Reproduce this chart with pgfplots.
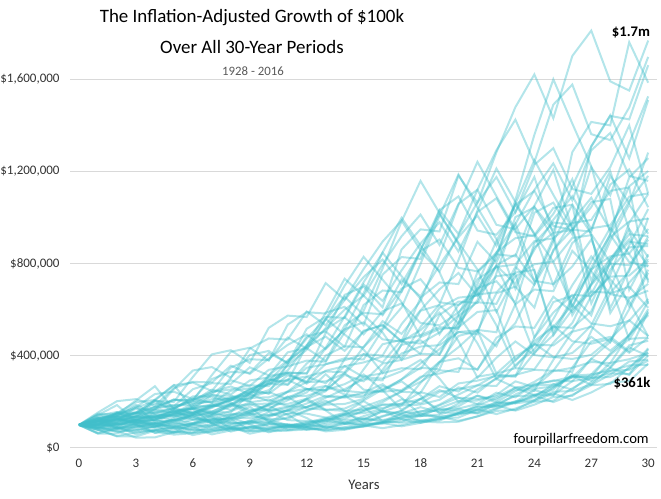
\documentclass[border=0pt]{standalone}
\usepackage{pgfplots}
\pgfplotsset{compat=1.18}
\usepackage{fontspec}
\setmainfont{Carlito}
\definecolor{wl}{RGB}{64,190,202}
\newcommand{\w}[1]{\addplot[wl, draw opacity=0.4, line width=1.5pt, no markers] coordinates {#1};}
\begin{document}
\begin{tikzpicture}
\path[use as bounding box] (0,0) rectangle (495.75pt,374.25pt);
\begin{axis}[
 at={(52.58pt,38.25pt)}, anchor=south west,
 scale only axis, width=440.25pt, height=319.95pt,
 xmin=-0.47, xmax=30.47, ymin=0, ymax=1850,
 axis line style={draw=none},
 major tick length=0pt,
 xtick={0,3,...,30},
 xticklabels={0,3,6,9,12,15,18,21,24,27,30},
 ytick={0,400,800,1200,1600},
 yticklabels={{\$0},{\$400,000},{\$800,000},{\$1,200,000},{\$1,600,000}},
 ymajorgrids, grid style={draw=black!15, line width=0.75pt},
 tick label style={font=\fontsize{9.75}{11}\selectfont, text=black!80},
 yticklabel style={xshift=-4.4pt},
 xticklabel style={yshift=-4.8pt},
]
\w{(0,100)(1,145)(2,133)(3,106)(4,66)(5,67)(6,100)(7,97)(8,138)(9,180)(10,113)(11,150)(12,149)(13,132)(14,105)(15,114)(16,139)(17,161)(18,214)(19,166)(20,161)(21,165)(22,199)(23,246)(24,287)(25,337)(26,330)(27,507)(28,670)(29,699)(30,608)}
\w{(0,100)(1,92)(2,73)(3,45)(4,46)(5,69)(6,67)(7,95)(8,124)(9,78)(10,103)(11,103)(12,91)(13,72)(14,79)(15,95)(16,111)(17,148)(18,115)(19,111)(20,114)(21,137)(22,169)(23,198)(24,232)(25,227)(26,349)(27,462)(28,482)(29,419)(30,592)}
\w{(0,100)(1,80)(2,50)(3,50)(4,75)(5,73)(6,104)(7,135)(8,85)(9,113)(10,112)(11,99)(12,79)(13,86)(14,104)(15,122)(16,161)(17,125)(18,121)(19,124)(20,150)(21,185)(22,216)(23,253)(24,248)(25,382)(26,504)(27,526)(28,458)(29,647)(30,712)}
\w{(0,100)(1,62)(2,63)(3,94)(4,91)(5,130)(6,170)(7,106)(8,142)(9,141)(10,124)(11,99)(12,108)(13,131)(14,153)(15,203)(16,157)(17,152)(18,156)(19,188)(20,232)(21,271)(22,318)(23,312)(24,479)(25,633)(26,660)(27,575)(28,811)(29,894)(30,885)}
\w{(0,100)(1,102)(2,152)(3,147)(4,210)(5,273)(6,171)(7,228)(8,227)(9,201)(10,159)(11,174)(12,211)(13,246)(14,326)(15,253)(16,244)(17,251)(18,303)(19,374)(20,437)(21,512)(22,502)(23,772)(24,1020)(25,1064)(26,926)(27,1307)(28,1440)(29,1425)(30,1660)}
\w{(0,100)(1,149)(2,145)(3,206)(4,268)(5,168)(6,224)(7,223)(8,197)(9,157)(10,171)(11,207)(12,241)(13,320)(14,248)(15,240)(16,246)(17,298)(18,367)(19,429)(20,503)(21,493)(22,758)(23,1001)(24,1044)(25,909)(26,1283)(27,1414)(28,1399)(29,1760)(30,1584)}
\w{(0,100)(1,97)(2,138)(3,180)(4,113)(5,150)(6,149)(7,132)(8,105)(9,114)(10,139)(11,162)(12,215)(13,166)(14,161)(15,165)(16,199)(17,246)(18,287)(19,337)(20,330)(21,508)(22,671)(23,700)(24,609)(25,860)(26,947)(27,938)(28,1180)(29,1062)(30,1281)}
\w{(0,100)(1,143)(2,186)(3,117)(4,155)(5,154)(6,136)(7,108)(8,118)(9,143)(10,167)(11,222)(12,172)(13,166)(14,171)(15,206)(16,254)(17,297)(18,348)(19,341)(20,524)(21,693)(22,723)(23,629)(24,888)(25,978)(26,968)(27,1218)(28,1096)(29,1323)(30,1525)}
\w{(0,100)(1,130)(2,82)(3,109)(4,108)(5,96)(6,76)(7,83)(8,101)(9,117)(10,156)(11,121)(12,117)(13,120)(14,145)(15,179)(16,208)(17,244)(18,239)(19,368)(20,486)(21,507)(22,441)(23,623)(24,687)(25,680)(26,855)(27,769)(28,928)(29,1070)(30,1180)}
\w{(0,100)(1,63)(2,83)(3,83)(4,73)(5,58)(6,64)(7,77)(8,90)(9,119)(10,93)(11,89)(12,92)(13,111)(14,137)(15,160)(16,187)(17,184)(18,282)(19,373)(20,389)(21,339)(22,478)(23,527)(24,521)(25,656)(26,590)(27,712)(28,821)(29,905)(30,788)}
\w{(0,100)(1,133)(2,132)(3,117)(4,93)(5,101)(6,123)(7,143)(8,190)(9,148)(10,143)(11,146)(12,177)(13,218)(14,255)(15,299)(16,293)(17,450)(18,595)(19,620)(20,540)(21,762)(22,840)(23,831)(24,1046)(25,941)(26,1135)(27,1309)(28,1443)(29,1256)(30,1509)}
\w{(0,100)(1,99)(2,88)(3,70)(4,76)(5,92)(6,108)(7,143)(8,111)(9,107)(10,110)(11,133)(12,164)(13,192)(14,225)(15,220)(16,339)(17,447)(18,467)(19,406)(20,573)(21,632)(22,625)(23,786)(24,708)(25,854)(26,984)(27,1085)(28,945)(29,1135)(30,1201)}
\w{(0,100)(1,89)(2,70)(3,77)(4,93)(5,108)(6,144)(7,112)(8,108)(9,111)(10,134)(11,165)(12,193)(13,226)(14,222)(15,341)(16,450)(17,469)(18,408)(19,577)(20,635)(21,629)(22,791)(23,712)(24,859)(25,990)(26,1092)(27,950)(28,1142)(29,1208)(30,1044)}
\w{(0,100)(1,80)(2,87)(3,105)(4,123)(5,163)(6,126)(7,122)(8,125)(9,151)(10,187)(11,218)(12,255)(13,250)(14,385)(15,509)(16,531)(17,462)(18,652)(19,718)(20,711)(21,894)(22,805)(23,971)(24,1119)(25,1234)(26,1074)(27,1291)(28,1366)(29,1180)(30,1158)}
\w{(0,100)(1,109)(2,132)(3,154)(4,205)(5,159)(6,153)(7,157)(8,190)(9,235)(10,277)(11,327)(12,323)(13,499)(14,664)(15,700)(16,610)(17,861)(18,948)(19,939)(20,1181)(21,1063)(22,1282)(23,1478)(24,1620)(25,1430)(26,1700)(27,1810)(28,1590)(29,1550)(30,1767)}
\w{(0,100)(1,121)(2,141)(3,188)(4,146)(5,141)(6,144)(7,174)(8,215)(9,251)(10,295)(11,289)(12,444)(13,587)(14,612)(15,533)(16,752)(17,828)(18,820)(19,1032)(20,928)(21,1120)(22,1291)(23,1424)(24,1239)(25,1489)(26,1576)(27,1361)(28,1335)(29,1477)(30,1696)}
\w{(0,100)(1,117)(2,155)(3,120)(4,116)(5,119)(6,144)(7,178)(8,207)(9,243)(10,238)(11,366)(12,484)(13,505)(14,439)(15,620)(16,683)(17,676)(18,851)(19,766)(20,924)(21,1065)(22,1175)(23,1022)(24,1228)(25,1300)(26,1123)(27,1102)(28,1218)(29,1399)(30,1103)}
\w{(0,100)(1,133)(2,103)(3,100)(4,102)(5,123)(6,152)(7,178)(8,209)(9,204)(10,314)(11,415)(12,433)(13,377)(14,532)(15,586)(16,580)(17,730)(18,657)(19,793)(20,914)(21,1008)(22,877)(23,1054)(24,1115)(25,963)(26,945)(27,1045)(28,1200)(29,946)(30,624)}
\w{(0,100)(1,78)(2,75)(3,77)(4,93)(5,115)(6,134)(7,157)(8,154)(9,237)(10,313)(11,326)(12,284)(13,401)(14,441)(15,437)(16,550)(17,495)(18,597)(19,688)(20,759)(21,660)(22,793)(23,839)(24,725)(25,711)(26,787)(27,904)(28,712)(29,470)(30,602)}
\w{(0,100)(1,97)(2,99)(3,120)(4,148)(5,173)(6,203)(7,199)(8,305)(9,403)(10,421)(11,366)(12,517)(13,569)(14,564)(15,709)(16,638)(17,770)(18,887)(19,979)(20,852)(21,1023)(22,1083)(23,936)(24,918)(25,1015)(26,1166)(27,919)(28,606)(29,776)(30,917)}
\w{(0,100)(1,103)(2,124)(3,153)(4,179)(5,210)(6,205)(7,316)(8,417)(9,435)(10,379)(11,535)(12,589)(13,583)(14,734)(15,660)(16,796)(17,918)(18,1012)(19,881)(20,1059)(21,1120)(22,968)(23,949)(24,1050)(25,1206)(26,951)(27,627)(28,803)(29,949)(30,827)}
\w{(0,100)(1,121)(2,149)(3,174)(4,204)(5,200)(6,308)(7,406)(8,424)(9,369)(10,521)(11,574)(12,568)(13,715)(14,643)(15,776)(16,895)(17,986)(18,858)(19,1031)(20,1091)(21,943)(22,925)(23,1023)(24,1175)(25,926)(26,611)(27,783)(28,924)(29,806)(30,787)}
\w{(0,100)(1,124)(2,144)(3,169)(4,166)(5,255)(6,336)(7,351)(8,305)(9,431)(10,475)(11,470)(12,592)(13,532)(14,642)(15,741)(16,817)(17,711)(18,854)(19,904)(20,781)(21,766)(22,847)(23,973)(24,767)(25,506)(26,648)(27,765)(28,667)(29,652)(30,682)}
\w{(0,100)(1,117)(2,137)(3,134)(4,206)(5,272)(6,284)(7,247)(8,349)(9,385)(10,381)(11,479)(12,431)(13,520)(14,600)(15,661)(16,576)(17,691)(18,732)(19,632)(20,620)(21,686)(22,788)(23,621)(24,410)(25,525)(26,620)(27,540)(28,528)(29,552)(30,646)}
\w{(0,100)(1,117)(2,115)(3,177)(4,234)(5,244)(6,212)(7,299)(8,330)(9,326)(10,411)(11,370)(12,446)(13,514)(14,567)(15,493)(16,593)(17,627)(18,542)(19,532)(20,588)(21,675)(22,532)(23,351)(24,450)(25,531)(26,463)(27,452)(28,473)(29,554)(30,485)}
\w{(0,100)(1,98)(2,151)(3,199)(4,208)(5,181)(6,255)(7,281)(8,278)(9,350)(10,315)(11,380)(12,438)(13,483)(14,421)(15,505)(16,535)(17,462)(18,453)(19,501)(20,576)(21,454)(22,299)(23,383)(24,453)(25,395)(26,386)(27,404)(28,472)(29,413)(30,479)}
\w{(0,100)(1,154)(2,203)(3,212)(4,184)(5,260)(6,287)(7,284)(8,357)(9,321)(10,388)(11,447)(12,493)(13,429)(14,515)(15,545)(16,471)(17,462)(18,511)(19,587)(20,463)(21,305)(22,391)(23,462)(24,403)(25,393)(26,412)(27,482)(28,422)(29,489)(30,576)}
\w{(0,100)(1,132)(2,138)(3,120)(4,169)(5,187)(6,185)(7,232)(8,209)(9,252)(10,291)(11,321)(12,279)(13,335)(14,355)(15,307)(16,301)(17,333)(18,382)(19,301)(20,199)(21,254)(22,300)(23,262)(24,256)(25,268)(26,313)(27,274)(28,318)(29,375)(30,383)}
\w{(0,100)(1,104)(2,91)(3,128)(4,141)(5,140)(6,176)(7,158)(8,191)(9,220)(10,243)(11,211)(12,254)(13,269)(14,232)(15,228)(16,252)(17,289)(18,228)(19,150)(20,193)(21,227)(22,198)(23,194)(24,203)(25,237)(26,208)(27,241)(28,284)(29,290)(30,366)}
\w{(0,100)(1,87)(2,123)(3,135)(4,134)(5,169)(6,152)(7,183)(8,211)(9,233)(10,203)(11,243)(12,257)(13,222)(14,218)(15,241)(16,277)(17,218)(18,144)(19,185)(20,218)(21,190)(22,186)(23,194)(24,227)(25,199)(26,231)(27,272)(28,278)(29,351)(30,412)}
\w{(0,100)(1,141)(2,156)(3,154)(4,194)(5,174)(6,210)(7,243)(8,267)(9,233)(10,280)(11,296)(12,256)(13,251)(14,277)(15,319)(16,251)(17,166)(18,212)(19,251)(20,218)(21,213)(22,223)(23,261)(24,229)(25,265)(26,313)(27,319)(28,404)(29,473)(30,479)}
\w{(0,100)(1,110)(2,109)(3,137)(4,123)(5,149)(6,172)(7,189)(8,165)(9,198)(10,210)(11,181)(12,178)(13,196)(14,226)(15,178)(16,117)(17,150)(18,177)(19,155)(20,151)(21,158)(22,185)(23,162)(24,188)(25,221)(26,226)(27,286)(28,335)(29,339)(30,379)}
\w{(0,100)(1,99)(2,125)(3,112)(4,135)(5,156)(6,172)(7,150)(8,180)(9,190)(10,164)(11,161)(12,178)(13,205)(14,161)(15,106)(16,136)(17,161)(18,140)(19,137)(20,144)(21,168)(22,147)(23,171)(24,201)(25,205)(26,259)(27,304)(28,308)(29,344)(30,432)}
\w{(0,100)(1,126)(2,113)(3,137)(4,158)(5,174)(6,151)(7,182)(8,192)(9,166)(10,163)(11,180)(12,207)(13,163)(14,108)(15,138)(16,163)(17,142)(18,139)(19,145)(20,170)(21,149)(22,172)(23,203)(24,207)(25,262)(26,307)(27,311)(28,347)(29,436)(30,399)}
\w{(0,100)(1,90)(2,109)(3,125)(4,138)(5,120)(6,144)(7,153)(8,132)(9,129)(10,143)(11,164)(12,130)(13,86)(14,110)(15,129)(16,113)(17,110)(18,115)(19,135)(20,118)(21,137)(22,161)(23,165)(24,208)(25,244)(26,247)(27,276)(28,347)(29,317)(30,401)}
\w{(0,100)(1,121)(2,139)(3,153)(4,134)(5,160)(6,170)(7,147)(8,144)(9,159)(10,183)(11,144)(12,95)(13,122)(14,144)(15,125)(16,122)(17,128)(18,150)(19,131)(20,152)(21,179)(22,183)(23,232)(24,271)(25,275)(26,307)(27,386)(28,352)(29,445)(30,465)}
\w{(0,100)(1,115)(2,127)(3,111)(4,133)(5,141)(6,122)(7,119)(8,132)(9,151)(10,119)(11,79)(12,101)(13,119)(14,104)(15,102)(16,106)(17,124)(18,109)(19,126)(20,149)(21,152)(22,192)(23,225)(24,228)(25,254)(26,320)(27,292)(28,369)(29,385)(30,413)}
\w{(0,100)(1,110)(2,96)(3,115)(4,122)(5,105)(6,103)(7,114)(8,131)(9,104)(10,68)(11,88)(12,103)(13,90)(14,88)(15,92)(16,108)(17,94)(18,109)(19,129)(20,132)(21,167)(22,195)(23,198)(24,221)(25,277)(26,253)(27,320)(28,334)(29,358)(30,361)}
\w{(0,100)(1,87)(2,105)(3,111)(4,96)(5,94)(6,104)(7,119)(8,94)(9,62)(10,79)(11,94)(12,82)(13,80)(14,84)(15,98)(16,86)(17,99)(18,117)(19,119)(20,151)(21,177)(22,179)(23,200)(24,251)(25,230)(26,290)(27,303)(28,324)(29,320)(30,428)}
\w{(0,100)(1,120)(2,127)(3,110)(4,108)(5,119)(6,137)(7,108)(8,71)(9,91)(10,108)(11,94)(12,92)(13,96)(14,112)(15,98)(16,114)(17,134)(18,137)(19,173)(20,203)(21,206)(22,230)(23,289)(24,264)(25,333)(26,348)(27,373)(28,368)(29,492)(30,585)}
\w{(0,100)(1,106)(2,91)(3,90)(4,99)(5,114)(6,90)(7,59)(8,76)(9,90)(10,78)(11,76)(12,80)(13,94)(14,82)(15,95)(16,112)(17,114)(18,144)(19,169)(20,171)(21,191)(22,240)(23,220)(24,278)(25,290)(26,310)(27,306)(28,410)(29,487)(30,637)}
\w{(0,100)(1,86)(2,85)(3,94)(4,108)(5,85)(6,56)(7,72)(8,85)(9,74)(10,72)(11,76)(12,88)(13,77)(14,90)(15,106)(16,108)(17,136)(18,160)(19,162)(20,181)(21,227)(22,208)(23,262)(24,274)(25,293)(26,289)(27,387)(28,460)(29,602)(30,760)}
\w{(0,100)(1,98)(2,109)(3,125)(4,98)(5,65)(6,83)(7,98)(8,85)(9,84)(10,87)(11,102)(12,90)(13,104)(14,122)(15,125)(16,158)(17,185)(18,188)(19,209)(20,263)(21,240)(22,304)(23,317)(24,339)(25,335)(26,448)(27,532)(28,696)(29,880)(30,1036)}
\w{(0,100)(1,111)(2,127)(3,100)(4,66)(5,85)(6,100)(7,87)(8,85)(9,89)(10,104)(11,91)(12,106)(13,125)(14,127)(15,161)(16,189)(17,191)(18,213)(19,268)(20,245)(21,309)(22,323)(23,346)(24,341)(25,457)(26,542)(27,710)(28,897)(29,1056)(30,929)}
\w{(0,100)(1,115)(2,91)(3,60)(4,77)(5,90)(6,79)(7,77)(8,81)(9,94)(10,83)(11,96)(12,113)(13,115)(14,146)(15,171)(16,173)(17,193)(18,242)(19,221)(20,280)(21,292)(22,313)(23,309)(24,413)(25,490)(26,642)(27,811)(28,955)(29,840)(30,729)}
\w{(0,100)(1,79)(2,52)(3,67)(4,79)(5,69)(6,67)(7,70)(8,82)(9,72)(10,83)(11,98)(12,100)(13,127)(14,149)(15,151)(16,168)(17,211)(18,193)(19,244)(20,255)(21,272)(22,269)(23,360)(24,427)(25,559)(26,706)(27,831)(28,731)(29,635)(30,484)}
\w{(0,100)(1,66)(2,85)(3,100)(4,87)(5,85)(6,89)(7,104)(8,91)(9,106)(10,125)(11,127)(12,161)(13,188)(14,191)(15,213)(16,268)(17,245)(18,309)(19,323)(20,346)(21,341)(22,456)(23,542)(24,709)(25,896)(26,1055)(27,928)(28,805)(29,614)(30,773)}
\w{(0,100)(1,128)(2,151)(3,132)(4,129)(5,135)(6,158)(7,138)(8,160)(9,189)(10,193)(11,244)(12,286)(13,289)(14,323)(15,406)(16,371)(17,469)(18,489)(19,524)(20,517)(21,692)(22,821)(23,1075)(24,1358)(25,1599)(26,1407)(27,1221)(28,931)(29,1173)(30,1257)}
\w{(0,100)(1,118)(2,103)(3,101)(4,105)(5,123)(6,108)(7,125)(8,147)(9,151)(10,190)(11,223)(12,226)(13,252)(14,317)(15,289)(16,366)(17,382)(18,409)(19,404)(20,540)(21,641)(22,839)(23,1060)(24,1248)(25,1098)(26,953)(27,727)(28,915)(29,982)(30,995)}
\w{(0,100)(1,87)(2,85)(3,89)(4,104)(5,91)(6,106)(7,125)(8,127)(9,161)(10,189)(11,191)(12,214)(13,268)(14,245)(15,310)(16,324)(17,346)(18,342)(19,457)(20,543)(21,711)(22,898)(23,1057)(24,930)(25,807)(26,615)(27,775)(28,831)(29,843)(30,950)}
\w{(0,100)(1,98)(2,102)(3,120)(4,105)(5,121)(6,143)(7,146)(8,185)(9,217)(10,220)(11,245)(12,308)(13,281)(14,355)(15,371)(16,397)(17,392)(18,525)(19,623)(20,815)(21,1030)(22,1212)(23,1067)(24,926)(25,706)(26,889)(27,953)(28,966)(29,1090)(30,1104)}
\w{(0,100)(1,105)(2,123)(3,107)(4,124)(5,147)(6,150)(7,189)(8,222)(9,225)(10,251)(11,315)(12,288)(13,364)(14,380)(15,407)(16,401)(17,537)(18,637)(19,834)(20,1054)(21,1241)(22,1092)(23,948)(24,722)(25,910)(26,976)(27,989)(28,1115)(29,1130)(30,717)}
\w{(0,100)(1,117)(2,102)(3,119)(4,140)(5,143)(6,181)(7,212)(8,215)(9,240)(10,301)(11,275)(12,348)(13,363)(14,389)(15,384)(16,513)(17,609)(18,798)(19,1007)(20,1186)(21,1043)(22,906)(23,690)(24,870)(25,933)(26,945)(27,1066)(28,1080)(29,685)(30,840)}
\w{(0,100)(1,88)(2,102)(3,120)(4,122)(5,154)(6,181)(7,183)(8,205)(9,257)(10,235)(11,297)(12,310)(13,332)(14,328)(15,438)(16,520)(17,681)(18,860)(19,1013)(20,891)(21,774)(22,590)(23,743)(24,797)(25,808)(26,911)(27,923)(28,585)(29,717)(30,811)}
\w{(0,100)(1,116)(2,137)(3,140)(4,177)(5,207)(6,210)(7,234)(8,294)(9,269)(10,339)(11,354)(12,379)(13,374)(14,501)(15,595)(16,778)(17,983)(18,1158)(19,1019)(20,884)(21,674)(22,849)(23,910)(24,923)(25,1041)(26,1055)(27,669)(28,820)(29,927)(30,919)}
\w{(0,100)(1,118)(2,120)(3,152)(4,178)(5,181)(6,202)(7,253)(8,232)(9,293)(10,306)(11,327)(12,323)(13,432)(14,513)(15,671)(16,848)(17,998)(18,878)(19,762)(20,581)(21,732)(22,785)(23,796)(24,897)(25,909)(26,576)(27,707)(28,800)(29,793)(30,903)}
\w{(0,100)(1,102)(2,129)(3,151)(4,153)(5,171)(6,215)(7,196)(8,248)(9,259)(10,278)(11,274)(12,366)(13,435)(14,570)(15,719)(16,847)(17,745)(18,647)(19,493)(20,621)(21,666)(22,675)(23,761)(24,772)(25,489)(26,600)(27,678)(28,673)(29,766)(30,998)}
\w{(0,100)(1,126)(2,148)(3,150)(4,168)(5,211)(6,192)(7,243)(8,254)(9,272)(10,268)(11,359)(12,426)(13,558)(14,704)(15,829)(16,730)(17,633)(18,483)(19,608)(20,652)(21,661)(22,745)(23,755)(24,479)(25,587)(26,664)(27,659)(28,750)(29,977)(30,1101)}
\w{(0,100)(1,117)(2,119)(3,133)(4,167)(5,152)(6,192)(7,201)(8,215)(9,212)(10,284)(11,337)(12,441)(13,557)(14,656)(15,577)(16,501)(17,382)(18,481)(19,516)(20,523)(21,590)(22,598)(23,379)(24,464)(25,525)(26,521)(27,593)(28,773)(29,870)(30,876)}
\w{(0,100)(1,101)(2,113)(3,142)(4,130)(5,164)(6,171)(7,183)(8,181)(9,242)(10,288)(11,376)(12,475)(13,560)(14,492)(15,427)(16,326)(17,410)(18,440)(19,446)(20,503)(21,510)(22,323)(23,396)(24,448)(25,445)(26,506)(27,659)(28,743)(29,748)(30,819)}
\end{axis}
\begin{scope}[x=0.75pt,y=0.75pt]
\node[font=\fontsize{14.2}{17}\selectfont] at (252,481) {The Inflation-Adjusted Growth of \$100k};
\node[font=\fontsize{14.2}{17}\selectfont] at (252,452) {Over All 30-Year Periods};
\node[font=\fontsize{9.6}{11.5}\selectfont, text=black!65] at (253,428) {1928 - 2016};
\node[font=\fontsize{11}{13}\selectfont\bfseries] at (631,466) {\$1.7m};
\node[font=\fontsize{11}{13}\selectfont\bfseries] at (632,116) {\$361k};
\node[font=\fontsize{11}{13}\selectfont, anchor=east, inner sep=0pt] at (649,59) {fourpillarfreedom.com};
\node[font=\fontsize{11}{13}\selectfont, text=black!80] at (364,14) {Years};
\end{scope}
\end{tikzpicture}
\end{document}
